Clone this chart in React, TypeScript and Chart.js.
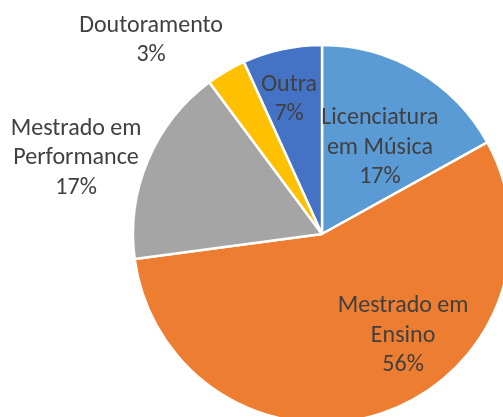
import React, { useEffect, useRef } from "react";
import { Chart, registerables } from "chart.js";

Chart.register(...registerables);

const categories = [
  "Licenciatura em Música",
  "Mestrado em Ensino",
  "Mestrado em Performance",
  "Doutoramento",
  "Outra",
];
const counts = [10, 33, 10, 2, 4];
const percentLabels = ["17%", "56%", "17%", "3%", "7%"];
const labelLines = [
  ["Licenciatura", "em Música"],
  ["Mestrado em", "Ensino"],
  ["Mestrado em", "Performance"],
  ["Doutoramento"],
  ["Outra"],
];
const colors = ["#5B9BD5", "#ED7D31", "#A5A5A5", "#FFC000", "#4472C4"];

// label placement: [angle from 12 o'clock in degrees, distance from centre in px]
const labelPlacement: [number, number][] = [
  [33.1, 106],
  [140.7, 128],
  [287.6, 258],
  [318.9, 260],
  [346.5, 141],
];

const FONT = '24px Carlito, "Liberation Sans Narrow", "Open Sans", sans-serif';
const LINE_H = 29.5;
const TEXT_SHIFT_Y = 2.5;

const labelPlugin = {
  id: "pieLabels",
  afterDatasetsDraw(chart: any) {
    const ctx = chart.ctx;
    const meta = chart.getDatasetMeta(0);
    const arc = meta.data[0];
    const cx = arc.x;
    const cy = arc.y;
    ctx.save();
    ctx.font = FONT;
    ctx.fillStyle = "#404040";
    ctx.textAlign = "center";
    ctx.textBaseline = "middle";
    labelLines.forEach((lines, i) => {
      const all = [...lines, percentLabels[i]];
      const [a, d] = labelPlacement[i];
      const rad = (a * Math.PI) / 180;
      const x = cx + d * Math.sin(rad);
      const y = cy - d * Math.cos(rad) + TEXT_SHIFT_Y;
      const top = y - ((all.length - 1) * LINE_H) / 2;
      all.forEach((t, j) => ctx.fillText(t, x, top + j * LINE_H));
    });
    ctx.restore();
  },
};

export default function App() {
  const ref = useRef<HTMLCanvasElement>(null);
  useEffect(() => {
    document.body.style.margin = "0";
    document.body.style.overflow = "hidden";
    const chart = new Chart(ref.current!, {
      type: "pie",
      data: {
        labels: categories,
        datasets: [
          {
            data: counts,
            backgroundColor: colors,
            borderColor: "#FFFFFF",
            borderWidth: 2.5,
          },
        ],
      },
      options: {
        responsive: false,
        animation: false,
        radius: 189,
        layout: { padding: { left: 141, right: 0, top: 51, bottom: 0 } },
        plugins: { legend: { display: false }, tooltip: { enabled: false } },
      } as any,
      plugins: [labelPlugin],
    });
    return () => chart.destroy();
  }, []);
  return (
    <div style={{ width: 503, height: 417, background: "#fff" }}>
      <canvas ref={ref} width={503} height={417} style={{ display: "block" }} />
    </div>
  );
}
